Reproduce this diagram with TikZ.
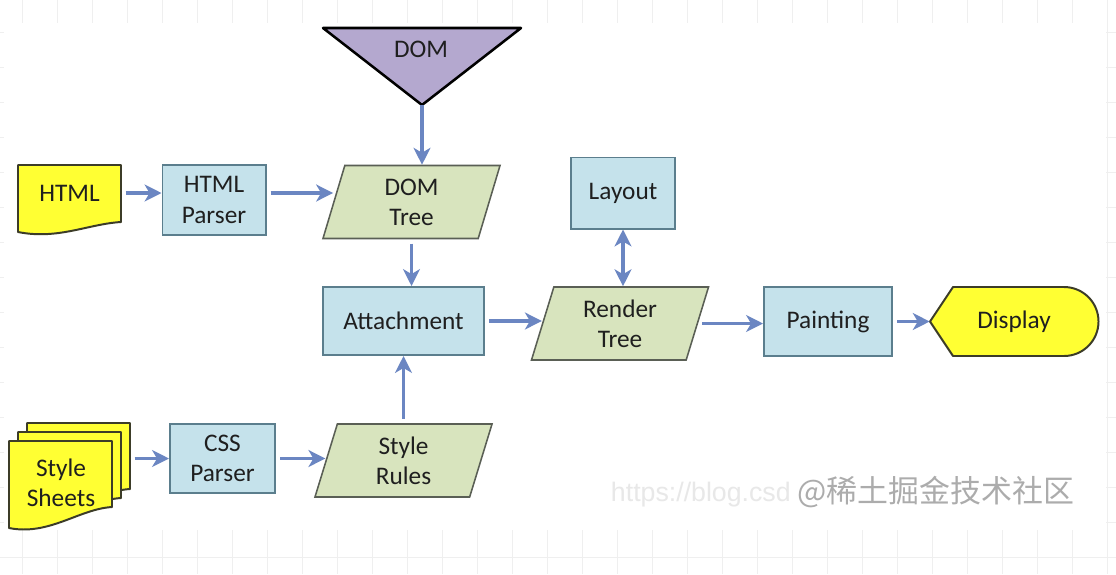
\documentclass[tikz,border=0pt]{standalone}
\usepackage{fontspec}
\setmainfont{Carlito}
\newfontfamily\cjkfont{Noto Sans CJK SC}
\newfontfamily\urlfont{Liberation Sans}
\usetikzlibrary{arrows.meta,shapes.geometric}

\definecolor{stageblue}{HTML}{C5E2EB}
\definecolor{stageline}{HTML}{5B7E8D}
\definecolor{treegreen}{HTML}{D8E4BE}
\definecolor{treeline}{HTML}{5A5F55}
\definecolor{docyellow}{HTML}{FFFF33}
\definecolor{docline}{HTML}{3C3C28}
\definecolor{dompurple}{HTML}{B4A8CF}
\definecolor{flowblue}{HTML}{6B86C2}
\definecolor{gridgray}{HTML}{EFEFEF}

\tikzset{
  txt/.style={font=\fontsize{18}{21.5}\selectfont, text=black!88, align=center},
  stagebox/.style={txt, draw=stageline, fill=stageblue, line width=1.4pt,
    minimum width=2.575cm, minimum height=1.75cm},
  treebox/.style={txt, trapezium, trapezium left angle=65, trapezium right angle=115,
    trapezium stretches body, draw=treeline, fill=treegreen, line width=1.1pt,
    minimum width=4.425cm, minimum height=1.825cm, inner sep=0pt},
  sheet/.style={draw=docline, fill=docyellow, line width=1.4pt, line join=round},
  flow/.style={->, draw=flowblue, line width=2.8pt, shorten <=3pt},
}

% one page with a wavy bottom: left, top, right drop, left drop
\newcommand\docpage[4]{%
  \draw[sheet, shift={(#1,#2)}] (0,0) -- (103,0) -- (103,#3)
    .. controls (70,#3+2) and (40,#4+8) .. (0,#4) -- cycle;}

\begin{document}
\begin{tikzpicture}[x=0.025cm, y=-0.025cm, >={Stealth[length=12pt,width=12pt,inset=3.5pt]}]
  \useasboundingbox (0,0) rectangle (1116,574);

  % background grid
  \foreach \gx in {22,57,...,1107} \draw[gridgray, line width=0.6pt] (\gx,0) -- (\gx,574);
  \foreach \gy in {32,67,...,574} \draw[gridgray, line width=0.6pt] (0,\gy) -- (1116,\gy);
  \fill[white] (4,23) rectangle (1106,530);

  % DOM
  \draw[fill=dompurple, line width=1.8pt, line join=round] (323,28) -- (521,28) -- (422,105) -- cycle;
  \node[txt] (dom) at (421,49) {DOM};
  \coordinate (domtip) at (422,105);

  % HTML
  \docpage{18}{165}{57}{67}
  \node[txt, minimum width=2.575cm] (html) at (69.5,193) {HTML};

  % HTML Parser
  \node[stagebox] (hparser) at (214,200) {HTML\\Parser};

  % DOM Tree
  \node[treebox] (dtree) at (411.5,202) {DOM\\Tree};

  % Layout
  \node[stagebox, minimum width=2.6cm, minimum height=1.775cm] (layout) at (623,193) {Layout};

  % Attachment
  \node[stagebox, minimum width=4.025cm, minimum height=1.7cm] (attach) at (403.5,321) {Attachment};

  % Render Tree
  \node[treebox] (rtree) at (620,323.5) {Render\\Tree};

  % Painting
  \node[stagebox, minimum width=3.2cm, minimum height=1.725cm] (paint) at (828,321.5) {Painting};

  % Display
  \draw[sheet] (930,321.5) -- (953,287) -- (1064,287) arc(-90:90:34.5) -- (953,356) -- cycle;
  \node[txt, minimum width=4.2cm, minimum height=1.725cm] (display) at (1014,321.5) {Display};

  % Style Sheets
  \docpage{27}{423}{66}{87}
  \docpage{18}{432}{66}{87}
  \docpage{9}{441}{66}{87}
  \node[txt, minimum width=3.45cm] (sheets) at (61,483) {Style\\Sheets};

  % CSS Parser
  \node[stagebox, minimum width=2.625cm, minimum height=1.725cm] (cparser) at (222.5,458.5) {CSS\\Parser};

  % Style Rules
  \node[treebox] (srules) at (403.5,460.5) {Style\\Rules};

  % arrows
  \draw[flow] (html) -- (hparser.west |- html);
  \draw[flow] (hparser.east |- html) -- (dtree.west |- html);
  \draw[flow, shorten <=0pt] (domtip) -- (dtree.north -| domtip);
  \draw[flow] (dtree.south) -- (attach.north -| dtree.south);
  \draw[flow] (srules.north) -- (attach.south -| srules.north);
  \draw[flow] (attach) -- (rtree.west |- attach);
  \draw[flow, <->, shorten <=0pt] (layout.south) -- (rtree.north -| layout.south);
  \draw[flow] (rtree.east) -- (paint.west |- rtree.east);
  \draw[flow] (paint) -- (display);
  \draw[flow] (sheets.east |- cparser) -- (cparser);
  \draw[flow] (cparser) -- (srules.west |- cparser);

  % watermark
  \node[font=\urlfont\fontsize{19}{19}\selectfont, text=gray!18, anchor=west] (wmurl) at (606,495) {https://blog.csd};
  \node[font=\cjkfont\fontsize{22}{22}\selectfont, text=gray!65, anchor=west, inner sep=0pt] (wmname) at (797,492) {@稀土掘金技术社区};
\end{tikzpicture}
\end{document}
